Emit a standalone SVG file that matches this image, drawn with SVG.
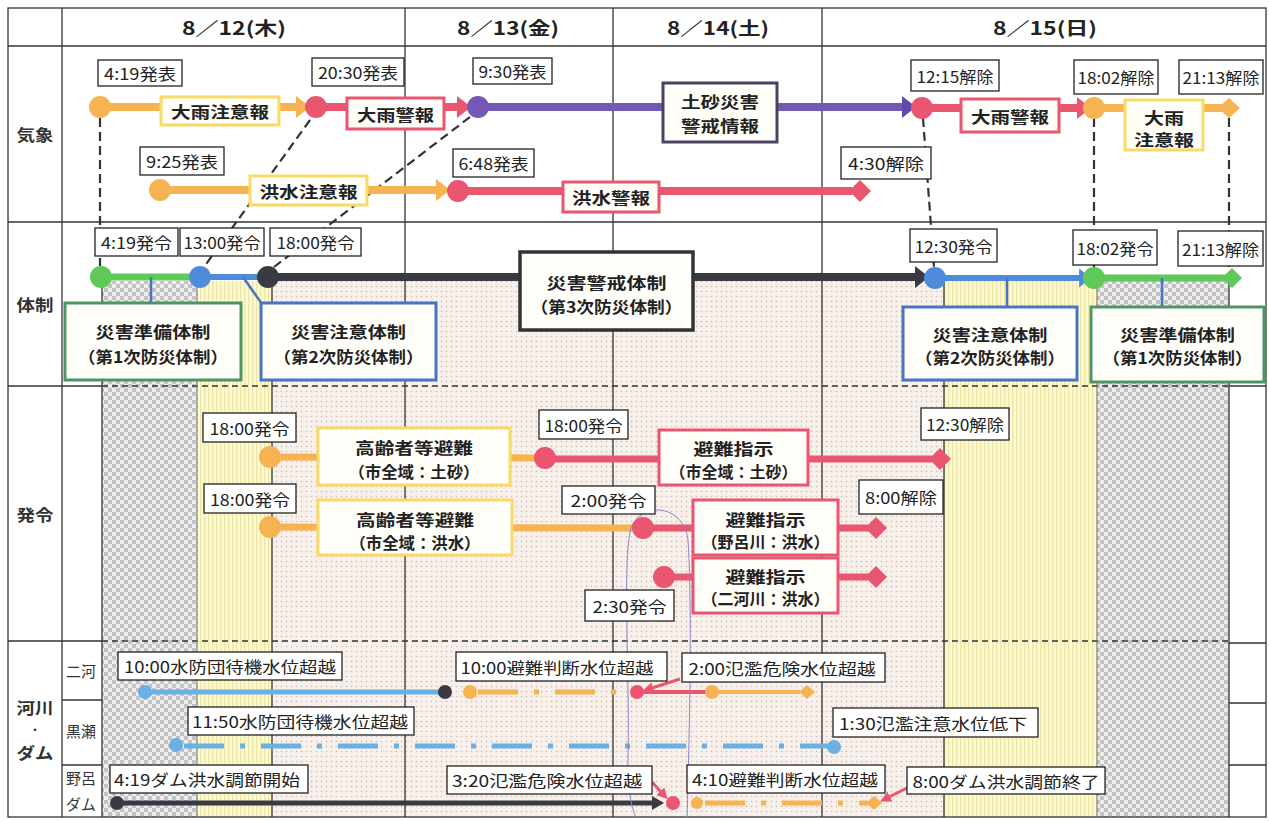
<svg xmlns="http://www.w3.org/2000/svg" width="1269" height="821" viewBox="0 0 1269 821">
<defs>
<style>
text{font-family:'Noto Sans CJK JP','Noto Sans CJK SC','Noto Sans',sans-serif;fill:#222;text-anchor:middle;dominant-baseline:central;font-size:16px}
.b{font-weight:bold}
.h{font-weight:bold;font-size:18px}
.rl{font-weight:bold;font-size:16px;fill:#333}
.dot{font-weight:bold;font-size:10px;fill:#333}
.sl{font-size:15px;fill:#333}
.lb rect{fill:#fff;stroke:#222;stroke-width:1.3}
.g{stroke:#333;stroke-width:1.3;fill:none}
.gl{stroke:#777;stroke-width:1;fill:none}
.gd{stroke:#333;stroke-width:1.3;stroke-dasharray:6 4;fill:none}
.dc{stroke:#333;stroke-width:2.2;stroke-dasharray:9 5;fill:none}
.bx{fill:#fffef8;stroke-width:3}
.yb{stroke:#F8DA66}.pb{stroke:#EA5570}.ub{stroke:#4B4160}.kb{stroke:#333;stroke-width:3.5}.gb{stroke:#4F9467}.bb{stroke:#4B73C5}
.o{stroke:#F5B351}.p{stroke:#EA5570}.u{stroke:#7557B4}.k{stroke:#3A3A42}.bl{stroke:#4F8BDB}.gr{stroke:#5FC95A}.lbl{stroke:#6BB0E3}
.fo{fill:#F5B351}.fp{fill:#EA5570}.fu{fill:#7557B4}.fk{fill:#3A3A42}.fb{fill:#4F8BDB}.fg{fill:#5FC95A}.fl{fill:#6BB0E3}
.w8{stroke-width:8;fill:none}.w7{stroke-width:7;fill:none}.w6{stroke-width:6;fill:none}.w5{stroke-width:5;fill:none}.w4{stroke-width:4;fill:none}
.dd{stroke-dasharray:40 16 5 16}
</style>
<pattern id="chk" width="8" height="8" patternUnits="userSpaceOnUse"><rect width="8" height="8" fill="#ededed"/><rect width="4" height="4" fill="#c3c3c3"/><rect x="4" y="4" width="4" height="4" fill="#c3c3c3"/></pattern>
<pattern id="str" width="4" height="4" patternUnits="userSpaceOnUse"><rect width="4" height="4" fill="#fcfad3"/><rect width="1.4" height="4" fill="#eee7a8"/></pattern>
<pattern id="dot" width="5" height="5" patternUnits="userSpaceOnUse"><rect width="5" height="5" fill="#f8f0ea"/><circle cx="1.5" cy="1.5" r="0.75" fill="#ccb8ae"/></pattern>
<marker id="mO" viewBox="0 0 14 22" refX="1" refY="11" markerWidth="14" markerHeight="22" markerUnits="userSpaceOnUse" orient="auto"><path d="M0 0L14 11L0 22z" fill="#F5B351"/></marker>
<marker id="mP" viewBox="0 0 14 22" refX="1" refY="11" markerWidth="14" markerHeight="22" markerUnits="userSpaceOnUse" orient="auto"><path d="M0 0L14 11L0 22z" fill="#EA5570"/></marker>
<marker id="mU" viewBox="0 0 14 22" refX="1" refY="11" markerWidth="14" markerHeight="22" markerUnits="userSpaceOnUse" orient="auto"><path d="M0 0L14 11L0 22z" fill="#5E4AA8"/></marker>
<marker id="mK" viewBox="0 0 14 22" refX="1" refY="11" markerWidth="14" markerHeight="22" markerUnits="userSpaceOnUse" orient="auto"><path d="M0 0L14 11L0 22z" fill="#3A3A42"/></marker>
<marker id="mB" viewBox="0 0 14 22" refX="1" refY="11" markerWidth="12" markerHeight="20" markerUnits="userSpaceOnUse" orient="auto"><path d="M0 0L14 11L0 22z" fill="#4F8BDB"/></marker>
<marker id="mKs" viewBox="0 0 12 14" refX="1" refY="7" markerWidth="12" markerHeight="14" markerUnits="userSpaceOnUse" orient="auto"><path d="M0 0L12 7L0 14z" fill="#3A3A42"/></marker>
<marker id="mPs" viewBox="0 0 10 10" refX="1" refY="5" markerWidth="11" markerHeight="11" markerUnits="userSpaceOnUse" orient="auto"><path d="M0 0L10 5L0 10z" fill="#EA5570"/></marker>
</defs>

<rect width="1269" height="821" fill="#fff"/>

<g id="shading">
<rect x="102" y="281" width="95" height="536" fill="url(#chk)"/>
<rect x="197" y="281" width="75" height="536" fill="url(#str)"/>
<rect x="272" y="281" width="672" height="536" fill="url(#dot)"/>
<rect x="944" y="281" width="153" height="536" fill="url(#str)"/>
<rect x="1097" y="281" width="132" height="536" fill="url(#chk)"/>
</g>

<g id="grid">
<rect x="8" y="8" width="1258" height="809" class="g" stroke-width="1.6"/>
<line x1="62" y1="8" x2="62" y2="817" class="g"/>
<line x1="405" y1="8" x2="405" y2="817" class="g"/>
<line x1="613" y1="8" x2="613" y2="817" class="g"/>
<line x1="822" y1="8" x2="822" y2="817" class="g"/>
<line x1="8" y1="46" x2="1266" y2="46" class="g"/>
<line x1="8" y1="222" x2="1266" y2="222" class="g"/>
<line x1="8" y1="386" x2="102" y2="386" class="g"/>
<line x1="102" y1="386" x2="1229" y2="386" class="gd"/>
<line x1="1229" y1="386" x2="1266" y2="386" class="g"/>
<line x1="8" y1="641" x2="102" y2="641" class="g"/>
<line x1="102" y1="641" x2="1229" y2="641" class="gd"/>
<line x1="1229" y1="643" x2="1266" y2="643" class="g"/>
<line x1="62" y1="700" x2="102" y2="700" class="g"/>
<line x1="62" y1="765" x2="102" y2="765" class="g"/>
<line x1="1229" y1="703" x2="1266" y2="703" class="g"/>
<line x1="1229" y1="765" x2="1266" y2="765" class="g"/>
<line x1="102" y1="281" x2="102" y2="817" class="g"/>
<line x1="197" y1="281" x2="197" y2="817" class="gl"/>
<line x1="272" y1="281" x2="272" y2="817" class="g"/>
<line x1="944" y1="281" x2="944" y2="817" class="g"/>
<line x1="1097" y1="281" x2="1097" y2="817" class="gl"/>
<line x1="1229" y1="281" x2="1229" y2="817" class="g"/>
</g>

<g id="headers">
<text x="234" y="27" class="h" textLength="104" lengthAdjust="spacingAndGlyphs">8／12(木)</text>
<text x="508" y="27" class="h" textLength="102" lengthAdjust="spacingAndGlyphs">8／13(金)</text>
<text x="718" y="27" class="h" textLength="102" lengthAdjust="spacingAndGlyphs">8／14(土)</text>
<text x="1045" y="27" class="h" textLength="104" lengthAdjust="spacingAndGlyphs">8／15(日)</text>
<text x="35" y="134" class="rl" textLength="37" lengthAdjust="spacingAndGlyphs">気象</text>
<text x="35" y="304" class="rl" textLength="37" lengthAdjust="spacingAndGlyphs">体制</text>
<text x="35" y="514" class="rl" textLength="37" lengthAdjust="spacingAndGlyphs">発令</text>
<text x="35" y="707" class="rl" textLength="37" lengthAdjust="spacingAndGlyphs">河川</text>
<text x="35" y="729" class="dot">・</text>
<text x="35" y="752" class="rl" textLength="37" lengthAdjust="spacingAndGlyphs">ダム</text>
<text x="81" y="670" class="sl" textLength="30" lengthAdjust="spacingAndGlyphs">二河</text>
<text x="81" y="730" class="sl" textLength="30" lengthAdjust="spacingAndGlyphs">黒瀬</text>
<text x="81" y="777" class="sl" textLength="30" lengthAdjust="spacingAndGlyphs">野呂</text>
<text x="81" y="803" class="sl" textLength="30" lengthAdjust="spacingAndGlyphs">ダム</text>
</g>

<g id="connectors">
<line x1="100" y1="118" x2="100" y2="266" class="dc"/>
<line x1="310" y1="120" x2="204" y2="267" class="dc"/>
<line x1="470" y1="117" x2="274" y2="267" class="dc"/>
<line x1="923" y1="118" x2="934" y2="267" class="dc"/>
<line x1="1094" y1="118" x2="1094" y2="267" class="dc"/>
<line x1="1229" y1="118" x2="1229" y2="267" class="dc"/>
<line x1="100" y1="107" x2="297" y2="107" class="o w8" marker-end="url(#mO)"/>
<line x1="316" y1="107" x2="458" y2="107" class="p w8" marker-end="url(#mP)"/>
<line x1="478" y1="107" x2="903" y2="107" class="u w8" marker-end="url(#mU)"/>
<line x1="922" y1="108" x2="1078" y2="108" class="p w8" marker-end="url(#mP)"/>
<line x1="1094" y1="108" x2="1224" y2="108" class="o w8"/>
<line x1="160" y1="190" x2="437" y2="190" class="o w8" marker-end="url(#mO)"/>
<line x1="458" y1="191" x2="852" y2="191" class="p w8"/>
<line x1="101" y1="277" x2="200" y2="277" class="gr w7"/>
<line x1="200" y1="277" x2="268" y2="277" class="bl w6"/>
<line x1="268" y1="277" x2="916" y2="277" class="k w8" marker-end="url(#mK)"/>
<line x1="935" y1="278" x2="1080" y2="278" class="bl w6" marker-end="url(#mB)"/>
<line x1="1094" y1="278" x2="1226" y2="278" class="gr w7"/>
<line x1="151" y1="277" x2="151" y2="304" stroke="#4B73C5" stroke-width="2.5"/>
<line x1="243" y1="277" x2="262" y2="304" stroke="#4B73C5" stroke-width="2.5"/>
<line x1="1007" y1="278" x2="1007" y2="307" stroke="#4B73C5" stroke-width="2.5"/>
<line x1="1162" y1="278" x2="1162" y2="307" stroke="#4B73C5" stroke-width="2.5"/>
<line x1="270" y1="457" x2="545" y2="458" class="o w7"/>
<line x1="545" y1="459" x2="932" y2="459" class="p w7"/>
<line x1="270" y1="527" x2="643" y2="528" class="o w7"/>
<line x1="643" y1="528" x2="868" y2="528" class="p w7"/>
<line x1="664" y1="577" x2="868" y2="577" class="p w7"/>
<line x1="145" y1="692" x2="445" y2="692" class="w5" style="stroke:#6BB0E3"/>
<line x1="478" y1="692" x2="632" y2="692" class="o w5 dd"/>
<line x1="637" y1="692" x2="712" y2="692" class="p w4"/>
<line x1="712" y1="692" x2="800" y2="692" class="o w4"/>
<line x1="184" y1="746" x2="828" y2="746" class="lbl w5 dd"/>
<line x1="117" y1="803" x2="653" y2="803" class="k w5" marker-end="url(#mKs)"/>
<line x1="705" y1="803" x2="868" y2="803" class="o w5 dd"/>
<line x1="680" y1="679" x2="652" y2="688" stroke="#EA5570" stroke-width="3" marker-end="url(#mPs)"/>
<line x1="652" y1="782" x2="661" y2="792" stroke="#EA5570" stroke-width="3" marker-end="url(#mPs)"/>
<line x1="907" y1="788" x2="889" y2="797" stroke="#EA5570" stroke-width="3" marker-end="url(#mPs)"/>
<path d="M687 818C690 720 692 600 688 540C684 505 642 500 631 528C622 560 630 680 628 760C627 790 632 808 636 818" fill="none" stroke="#8c84c8" stroke-width="1"/>
</g>

<g id="markers">
<circle cx="100" cy="107" r="11" class="fo"/>
<circle cx="316" cy="107" r="11" class="fp"/>
<circle cx="478" cy="107" r="11" class="fu"/>
<circle cx="922" cy="108" r="11" class="fp"/>
<circle cx="1094" cy="108" r="11" class="fo"/>
<polygon points="1218,108 1229,98 1240,108 1229,118" class="fo"/>
<circle cx="160" cy="190" r="11" class="fo"/>
<circle cx="458" cy="191" r="11" class="fp"/>
<polygon points="849,191 860,180 871,191 860,202" class="fp"/>
<circle cx="101" cy="277" r="11" class="fg"/>
<circle cx="200" cy="277" r="11" class="fb"/>
<circle cx="268" cy="277" r="11" class="fk"/>
<circle cx="935" cy="278" r="11" class="fb"/>
<circle cx="1094" cy="278" r="11" class="fg"/>
<polygon points="1222,278 1232,268 1242,278 1232,288" class="fg"/>
<circle cx="270" cy="457" r="11" class="fo"/>
<circle cx="545" cy="458" r="11" class="fp"/>
<polygon points="929,459 940,448 951,459 940,470" class="fp"/>
<circle cx="270" cy="527" r="11" class="fo"/>
<circle cx="643" cy="528" r="11" class="fp"/>
<polygon points="865,528 876,517 887,528 876,539" class="fp"/>
<circle cx="664" cy="577" r="11" class="fp"/>
<polygon points="865,577 876,566 887,577 876,588" class="fp"/>
<circle cx="145" cy="692" r="7" class="fl"/>
<circle cx="445" cy="692" r="7" class="fk"/>
<circle cx="470" cy="692" r="7" class="fo"/>
<circle cx="637" cy="692" r="7" class="fp"/>
<circle cx="712" cy="692" r="7" class="fo"/>
<polygon points="799,692 807,685 815,692 807,699" class="fo"/>
<circle cx="176" cy="745" r="7" class="fl"/>
<circle cx="834" cy="747" r="7" class="fl"/>
<circle cx="117" cy="803" r="7" class="fk"/>
<circle cx="673" cy="803" r="7" class="fp"/>
<circle cx="697" cy="803" r="6" class="fo"/>
<polygon points="866,803 874,796 882,803 874,810" class="fo"/>
</g>

<g id="n-ooame-chui" ><rect x="161" y="97" width="118" height="28" class="bx yb"/><text x="220" y="111" class="b" textLength="98" lengthAdjust="spacingAndGlyphs">大雨注意報</text></g>
<g id="n-ooame-keiho"><rect x="347" y="98" width="97" height="31" class="bx pb"/><text x="395.5" y="113.5" class="b" textLength="77" lengthAdjust="spacingAndGlyphs">大雨警報</text></g>
<g id="n-dosha"><rect x="663" y="83" width="114" height="59" class="bx ub"/><text x="720" y="101" class="b" textLength="78" lengthAdjust="spacingAndGlyphs">土砂災害</text><text x="720" y="125" class="b" textLength="78" lengthAdjust="spacingAndGlyphs">警戒情報</text></g>
<g id="n-ooame-keiho2"><rect x="961" y="99" width="98" height="33" class="bx pb"/><text x="1010" y="115.5" class="b" textLength="78" lengthAdjust="spacingAndGlyphs">大雨警報</text></g>
<g id="n-ooame-chui2"><rect x="1125" y="100" width="78" height="50" class="bx yb"/><text x="1164" y="117" class="b" textLength="40" lengthAdjust="spacingAndGlyphs">大雨</text><text x="1164" y="139" class="b" textLength="60" lengthAdjust="spacingAndGlyphs">注意報</text></g>
<g id="n-kozui-chui"><rect x="250" y="176" width="117" height="29" class="bx yb"/><text x="308.5" y="190.5" class="b" textLength="98" lengthAdjust="spacingAndGlyphs">洪水注意報</text></g>
<g id="n-kozui-keiho"><rect x="563" y="182" width="96" height="30" class="bx pb"/><text x="611" y="197" class="b" textLength="78" lengthAdjust="spacingAndGlyphs">洪水警報</text></g>

<g id="n-junbi1"><rect x="65" y="303" width="176" height="77" class="bx gb"/><text x="153" y="331" class="b" textLength="115" lengthAdjust="spacingAndGlyphs">災害準備体制</text><text x="153" y="356" class="b" textLength="150" lengthAdjust="spacingAndGlyphs">（第1次防災体制）</text></g>
<g id="n-chui1"><rect x="261" y="303" width="175" height="77" class="bx bb"/><text x="348.5" y="331" class="b" textLength="115" lengthAdjust="spacingAndGlyphs">災害注意体制</text><text x="348.5" y="356" class="b" textLength="150" lengthAdjust="spacingAndGlyphs">（第2次防災体制）</text></g>
<g id="n-keikai"><rect x="520" y="252" width="173" height="78" class="bx kb"/><text x="606.5" y="282" class="b" textLength="120" lengthAdjust="spacingAndGlyphs">災害警戒体制</text><text x="606.5" y="306" class="b" textLength="152" lengthAdjust="spacingAndGlyphs">（第3次防災体制）</text></g>
<g id="n-chui2"><rect x="903" y="307" width="174" height="73" class="bx bb"/><text x="990" y="334" class="b" textLength="115" lengthAdjust="spacingAndGlyphs">災害注意体制</text><text x="990" y="357" class="b" textLength="150" lengthAdjust="spacingAndGlyphs">（第2次防災体制）</text></g>
<g id="n-junbi2"><rect x="1091" y="307" width="173" height="75" class="bx gb"/><text x="1177.5" y="334" class="b" textLength="115" lengthAdjust="spacingAndGlyphs">災害準備体制</text><text x="1177.5" y="357" class="b" textLength="150" lengthAdjust="spacingAndGlyphs">（第1次防災体制）</text></g>

<g id="n-koreisha-dosha"><rect x="318" y="428" width="192" height="57" class="bx yb"/><text x="414" y="447" class="b" textLength="118" lengthAdjust="spacingAndGlyphs">高齢者等避難</text><text x="414" y="471" class="b" textLength="131" lengthAdjust="spacingAndGlyphs">（市全域：土砂）</text></g>
<g id="n-koreisha-kozui"><rect x="318" y="500" width="194" height="55" class="bx yb"/><text x="415" y="519" class="b" textLength="118" lengthAdjust="spacingAndGlyphs">高齢者等避難</text><text x="415" y="542" class="b" textLength="131" lengthAdjust="spacingAndGlyphs">（市全域：洪水）</text></g>
<g id="n-shiji-dosha"><rect x="659" y="430" width="149" height="55" class="bx pb"/><text x="733.5" y="448" class="b" textLength="80" lengthAdjust="spacingAndGlyphs">避難指示</text><text x="733.5" y="471" class="b" textLength="128" lengthAdjust="spacingAndGlyphs">（市全域：土砂）</text></g>
<g id="n-shiji-noro"><rect x="693" y="500" width="145" height="55" class="bx pb"/><text x="765.5" y="519" class="b" textLength="80" lengthAdjust="spacingAndGlyphs">避難指示</text><text x="765.5" y="541" class="b" textLength="128" lengthAdjust="spacingAndGlyphs">（野呂川：洪水）</text></g>
<g id="n-shiji-nikou"><rect x="693" y="558" width="145" height="55" class="bx pb"/><text x="765.5" y="576" class="b" textLength="80" lengthAdjust="spacingAndGlyphs">避難指示</text><text x="765.5" y="598" class="b" textLength="128" lengthAdjust="spacingAndGlyphs">（二河川：洪水）</text></g>

<g id="time-labels" class="lb">
<g id="l1"><rect x="98" y="60" width="84" height="26"/><text x="140" y="73" textLength="72" lengthAdjust="spacingAndGlyphs">4:19発表</text></g>
<g id="l2"><rect x="312" y="58" width="92" height="28"/><text x="358" y="72" textLength="80" lengthAdjust="spacingAndGlyphs">20:30発表</text></g>
<g id="l3"><rect x="473" y="58" width="79" height="26"/><text x="512.5" y="71" textLength="68" lengthAdjust="spacingAndGlyphs">9:30発表</text></g>
<g id="l4"><rect x="140" y="147" width="84" height="28"/><text x="182" y="161" textLength="72" lengthAdjust="spacingAndGlyphs">9:25発表</text></g>
<g id="l5"><rect x="453" y="149" width="81" height="28"/><text x="493.5" y="163" textLength="70" lengthAdjust="spacingAndGlyphs">6:48発表</text></g>
<g id="l6"><rect x="911" y="60" width="88" height="31"/><text x="955" y="75.5" textLength="77" lengthAdjust="spacingAndGlyphs">12:15解除</text></g>
<g id="l7"><rect x="1074" y="60" width="84" height="34"/><text x="1116" y="77" textLength="77" lengthAdjust="spacingAndGlyphs">18:02解除</text></g>
<g id="l8"><rect x="1179" y="60" width="84" height="34"/><text x="1221" y="77" textLength="77" lengthAdjust="spacingAndGlyphs">21:13解除</text></g>
<g id="l9"><rect x="841" y="147" width="90" height="32"/><text x="886" y="163" textLength="76" lengthAdjust="spacingAndGlyphs">4:30解除</text></g>
<g id="l10"><rect x="95" y="228" width="83" height="28"/><text x="136.5" y="242" textLength="71" lengthAdjust="spacingAndGlyphs">4:19発令</text></g>
<g id="l11"><rect x="180" y="228" width="84" height="28"/><text x="222" y="242" textLength="77" lengthAdjust="spacingAndGlyphs">13:00発令</text></g>
<g id="l12"><rect x="270" y="228" width="91" height="28"/><text x="315.5" y="242" textLength="78" lengthAdjust="spacingAndGlyphs">18:00発令</text></g>
<g id="l13"><rect x="910" y="229" width="87" height="33"/><text x="953.5" y="245.5" textLength="78" lengthAdjust="spacingAndGlyphs">12:30発令</text></g>
<g id="l14"><rect x="1073" y="230" width="84" height="35"/><text x="1115" y="247.5" textLength="77" lengthAdjust="spacingAndGlyphs">18:02発令</text></g>
<g id="l15"><rect x="1178" y="231" width="85" height="35"/><text x="1220.5" y="248.5" textLength="77" lengthAdjust="spacingAndGlyphs">21:13解除</text></g>
<g id="l16"><rect x="203" y="413" width="93" height="29"/><text x="249.5" y="427.5" textLength="80" lengthAdjust="spacingAndGlyphs">18:00発令</text></g>
<g id="l17"><rect x="539" y="410" width="89" height="29"/><text x="583.5" y="424.5" textLength="78" lengthAdjust="spacingAndGlyphs">18:00発令</text></g>
<g id="l18"><rect x="921" y="408" width="88" height="32"/><text x="965" y="424" textLength="78" lengthAdjust="spacingAndGlyphs">12:30解除</text></g>
<g id="l19"><rect x="204" y="484" width="92" height="29"/><text x="250" y="498.5" textLength="80" lengthAdjust="spacingAndGlyphs">18:00発令</text></g>
<g id="l20"><rect x="562" y="486" width="93" height="28"/><text x="608.5" y="500" textLength="76" lengthAdjust="spacingAndGlyphs">2:00発令</text></g>
<g id="l21"><rect x="859" y="480" width="84" height="34"/><text x="901" y="497" textLength="72" lengthAdjust="spacingAndGlyphs">8:00解除</text></g>
<g id="l22"><rect x="585" y="590" width="89" height="31"/><text x="629.5" y="605.5" textLength="74" lengthAdjust="spacingAndGlyphs">2:30発令</text></g>
<g id="l23"><rect x="118" y="652" width="224" height="28"/><text x="230" y="666" textLength="212" lengthAdjust="spacingAndGlyphs">10:00水防団待機水位超越</text></g>
<g id="l24"><rect x="456" y="652" width="211" height="29"/><text x="557" y="666.5" textLength="193" lengthAdjust="spacingAndGlyphs">10:00避難判断水位超越</text></g>
<g id="l25"><rect x="682" y="653" width="203" height="29"/><text x="782" y="667.5" textLength="187" lengthAdjust="spacingAndGlyphs">2:00氾濫危険水位超越</text></g>
<g id="l26"><rect x="188" y="707" width="226" height="28"/><text x="300" y="721" textLength="216" lengthAdjust="spacingAndGlyphs">11:50水防団待機水位超越</text></g>
<g id="l27"><rect x="833" y="708" width="205" height="29"/><text x="933" y="722.5" textLength="188" lengthAdjust="spacingAndGlyphs">1:30氾濫注意水位低下</text></g>
<g id="l28"><rect x="110" y="765" width="198" height="28"/><text x="207" y="779" textLength="186" lengthAdjust="spacingAndGlyphs">4:19ダム洪水調節開始</text></g>
<g id="l29"><rect x="447" y="766" width="205" height="28"/><text x="547" y="780" textLength="190" lengthAdjust="spacingAndGlyphs">3:20氾濫危険水位超越</text></g>
<g id="l30"><rect x="687" y="765" width="198" height="28"/><text x="785" y="779" textLength="186" lengthAdjust="spacingAndGlyphs">4:10避難判断水位超越</text></g>
<g id="l31"><rect x="907" y="767" width="198" height="27"/><text x="1006" y="780.5" textLength="187" lengthAdjust="spacingAndGlyphs">8:00ダム洪水調節終了</text></g>
</g>
</svg>
